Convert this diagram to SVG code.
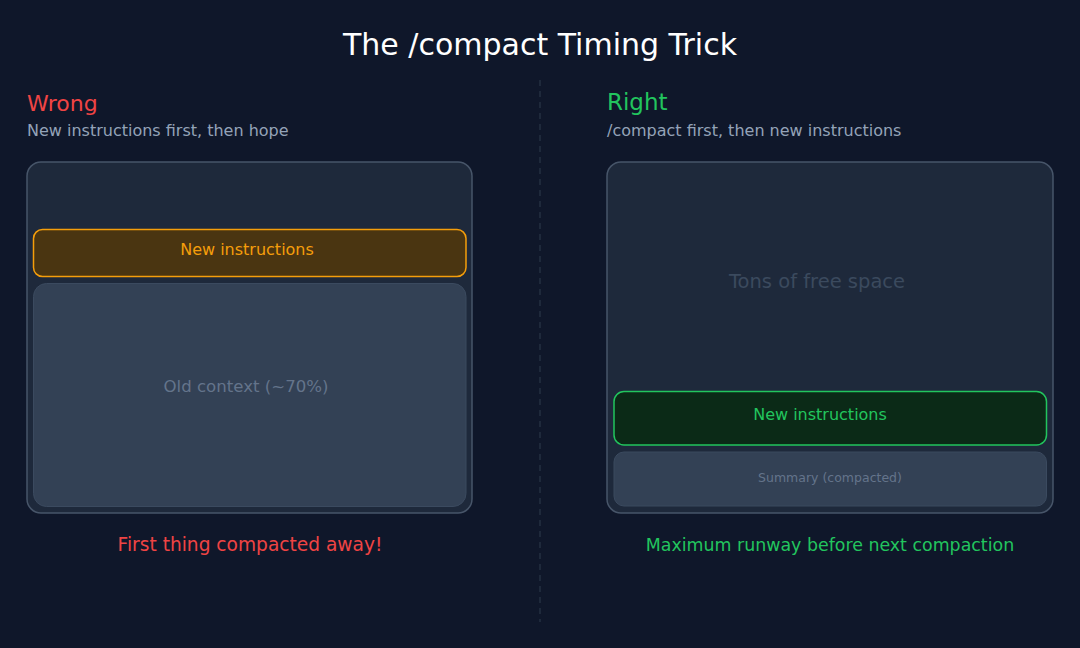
<svg xmlns="http://www.w3.org/2000/svg" width="1080" height="648" viewBox="0 0 1080 648">
<style>
text{font-family:"DejaVu Sans","Liberation Sans",sans-serif}
.outer{fill:#1e293b;stroke:#475569;stroke-width:1.5}
.old{fill:#334155;stroke:#3b4a5f;stroke-width:1}
.c{text-anchor:middle}
</style>
<rect width="1080" height="648" fill="#0f172a"/>
<text class="c" x="540" y="55" font-size="30" fill="#ffffff">The /compact Timing Trick</text>
<g id="divider"><line x1="540" y1="80" x2="540" y2="622" stroke="#1e293b" stroke-width="2" stroke-dasharray="6 5"/></g>
<g id="wrong-head">
<text x="27" y="111" font-size="22" fill="#ef4444">Wrong</text>
<text x="27" y="136" font-size="16" fill="#94a3b8">New instructions first, then hope</text>
</g>
<g id="right-head">
<text x="607" y="110" font-size="23" fill="#22c55e">Right</text>
<text x="607" y="136" font-size="16" fill="#94a3b8">/compact first, then new instructions</text>
</g>
<g id="wrong-box">
<rect class="outer" x="27" y="162" width="445" height="351" rx="14"/>
</g>
<g id="wrong-new">
<rect x="33.5" y="229.5" width="432.5" height="47" rx="9" fill="#4a3511" stroke="#f59e0b" stroke-width="1.5"/>
<text class="c" x="247" y="255" font-size="16" fill="#f59e0b">New instructions</text>
</g>
<g id="wrong-old">
<rect class="old" x="33.5" y="283.5" width="432.5" height="223" rx="13"/>
<text class="c" x="246" y="392" font-size="16.6" fill="#64748b">Old context (~70%)</text>
</g>
<g id="right-box">
<rect class="outer" x="607" y="162" width="446" height="351" rx="14"/>
<text class="c" x="817" y="288" font-size="19.5" fill="#3b4a5e">Tons of free space</text>
</g>
<g id="right-new">
<rect x="614" y="391.5" width="432.5" height="53.5" rx="10" fill="#0b2a17" stroke="#22c55e" stroke-width="1.5"/>
<text class="c" x="820" y="420" font-size="16" fill="#22c55e">New instructions</text>
</g>
<g id="right-summary">
<rect class="old" x="614" y="452" width="432.5" height="54" rx="10"/>
<text class="c" x="830" y="482" font-size="12.5" fill="#64748b">Summary (compacted)</text>
</g>
<text class="c" x="250" y="551" font-size="18.6" fill="#ef4444">First thing compacted away!</text>
<text class="c" x="830" y="551" font-size="17.4" fill="#22c55e">Maximum runway before next compaction</text>
</svg>
